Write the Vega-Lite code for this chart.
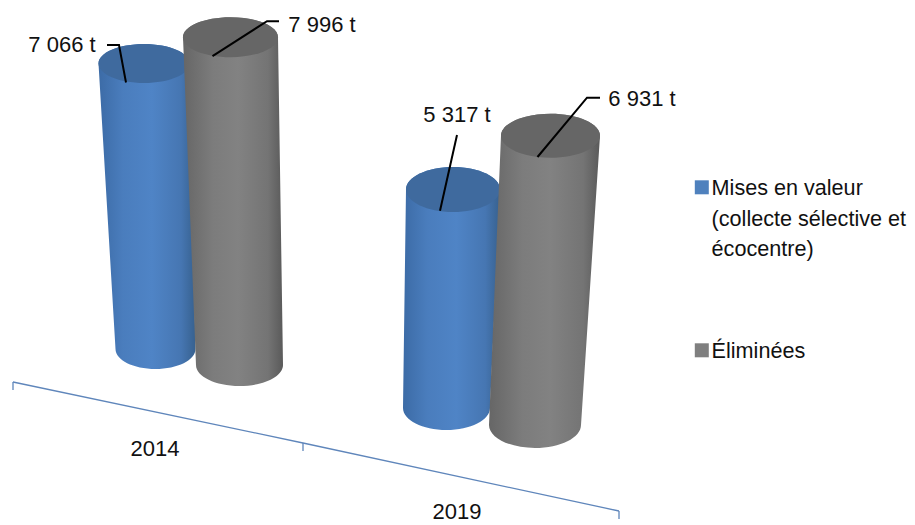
{
  "$schema": "https://vega.github.io/schema/vega-lite/v6.json",
  "width": 915,
  "height": 525,
  "padding": 0,
  "autosize": "none",
  "background": "white",
  "config": {"view": {"stroke": null}, "axis": {"disable": true}},
  "layer": [
    {
      "data": {"values": [{"borne": 0}, {"borne": 1}, {"borne": 2}]},
      "transform": [
        {"calculate": "13 + 290 * datum.borne + 13 * datum.borne * (datum.borne - 1)", "as": "ax"},
        {"calculate": "382 + 61 * datum.borne + 3.5 * datum.borne * (datum.borne - 1)", "as": "ay"},
        {"calculate": "datum.ay + 8", "as": "ay2"}
      ],
      "layer": [
        {
          "mark": {"type": "line", "color": "#5f86bb", "strokeWidth": 1.3},
          "encoding": {
            "x": {"field": "ax", "type": "quantitative", "scale": {"domain": [0, 915], "nice": false}, "title": null},
            "y": {"field": "ay", "type": "quantitative", "scale": {"domain": [525, 0], "nice": false}, "title": null}
          }
        },
        {
          "mark": {"type": "rule", "color": "#5f86bb", "strokeWidth": 1.3},
          "encoding": {
            "x": {"field": "ax", "type": "quantitative", "scale": {"domain": [0, 915], "nice": false}, "title": null},
            "y": {"field": "ay", "type": "quantitative", "scale": {"domain": [525, 0], "nice": false}, "title": null},
            "y2": {"field": "ay2"}
          }
        }
      ]
    },
    {
      "data": {
        "values": [
          {"annee": "2014", "categorie": "Mises en valeur|(collecte sélective et|écocentre)", "tonnes": 7066},
          {"annee": "2014", "categorie": "Éliminées", "tonnes": 7996},
          {"annee": "2019", "categorie": "Mises en valeur|(collecte sélective et|écocentre)", "tonnes": 5317},
          {"annee": "2019", "categorie": "Éliminées", "tonnes": 6931}
        ]
      },
      "transform": [
        {"calculate": "datum.annee == '2019' ? 1 : 0", "as": "u"},
        {"calculate": "datum.categorie == 'Éliminées' ? 1 : 0", "as": "v"},
        {"calculate": "datum.annee + datum.categorie", "as": "cle"},
        {"calculate": "155.5 + 291 * datum.u + 84 * datum.v + 4.5 * datum.u * datum.v", "as": "bx"},
        {"calculate": "349 + 59 * datum.u + 16 * datum.v + datum.u * datum.v", "as": "by"},
        {"calculate": "0.0404 + 0.0007 * datum.u + 0.0006 * datum.v + 0.00004 * datum.u * datum.v", "as": "k"},
        {"calculate": "datum.by - datum.k * datum.tonnes", "as": "ty"},
        {"calculate": "144 + 309 * datum.u + 86.5 * datum.v + 11 * datum.u * datum.v", "as": "tx"},
        {"calculate": "40 + 3.5 * datum.u + 3.5 * datum.v - datum.u * datum.v", "as": "brx"},
        {"calculate": "45.5 + 1.5 * datum.u + 2 * datum.v + 0.5 * datum.u * datum.v", "as": "trx"},
        {"calculate": "20 + 2 * datum.u + datum.v", "as": "bry"},
        {"calculate": "19.5 + 3 * datum.u + 0.5 * datum.v - datum.u * datum.v", "as": "try"},
        {"calculate": "pow(2 * datum.trx, 2)", "as": "tsize"},
        {"calculate": "datum.try / datum.trx", "as": "tratio"},
        {"calculate": "'M-1,0A1,' + datum.tratio + ' 0 1 1 1,0A1,' + datum.tratio + ' 0 1 1 -1,0Z'", "as": "tpath"},
        {"calculate": "'M' + (-datum.trx) + ',0L' + (datum.bx - datum.brx - datum.tx) + ',' + (datum.by - datum.ty) + 'A' + datum.brx + ',' + datum.bry + ' 0 0 0 ' + (datum.bx + datum.brx - datum.tx) + ',' + (datum.by - datum.ty) + 'L' + datum.trx + ',0A' + datum.trx + ',' + datum.try + ' 0 0 0 ' + (-datum.trx) + ',0Z'", "as": "silhouette"}
      ],
      "layer": [
        {
          "transform": [{"calculate": "datum.by - 2", "as": "uy"}],
          "mark": {"type": "point", "filled": true, "opacity": 1, "strokeWidth": 0, "shape": "M-1,0A1,0.4 0 1 1 1,0A1,0.4 0 1 1 -1,0Z", "size": 3600},
          "encoding": {
            "x": {"field": "bx", "type": "quantitative", "scale": {"domain": [0, 915], "nice": false}, "title": null},
            "y": {"field": "uy", "type": "quantitative", "scale": {"domain": [525, 0], "nice": false}, "title": null},
            "color": {
              "field": "categorie",
              "type": "nominal",
              "scale": {
                "domain": ["Mises en valeur|(collecte sélective et|écocentre)", "Éliminées"],
                "range": ["#4f81bd", "#7f7f7f"]
              },
              "legend": {
                "title": null,
                "orient": "none",
                "legendX": 691,
                "legendY": 176.5,
                "symbolType": "square",
                "symbolSize": 196,
                "symbolStrokeWidth": 0,
                "symbolOpacity": 1,
                "labelFont": "Liberation Sans",
                "labelFontSize": 21.6,
                "labelColor": "#111111",
                "labelLimit": 400,
                "labelOffset": -1,
                "labelBaseline": "top",
                "rowPadding": 78,
                "labelExpr": "split(datum.label, '|')",
                "encode": {"labels": {"update": {"lineHeight": {"value": 30.5}, "dy": {"value": -9}}}}
              }
            }
          }
        },
        {
          "transform": [{"filter": "datum.v == 0"}],
          "layer": [
            {
              "mark": {"type": "point", "filled": true, "opacity": 1, "strokeWidth": 0, "size": 4,
                "color": {"gradient": "linear", "x1": 0, "x2": 1, "y1": 0, "y2": 0, "stops": [
                  {"offset": 0, "color": "#3c6ba6"}, {"offset": 0.25, "color": "#4a7dbd"}, {"offset": 0.55, "color": "#4f84c6"}, {"offset": 0.85, "color": "#4676b2"}, {"offset": 1, "color": "#37618f"}]}},
              "encoding": {
                "x": {"field": "tx", "type": "quantitative", "scale": {"domain": [0, 915], "nice": false}, "title": null},
                "y": {"field": "ty", "type": "quantitative", "scale": {"domain": [525, 0], "nice": false}, "title": null},
                "shape": {"field": "silhouette", "type": "nominal", "scale": null}
              }
            },
            {
              "mark": {"type": "point", "filled": true, "opacity": 1, "strokeWidth": 0, "color": "#3f6a9e"},
              "encoding": {
                "x": {"field": "tx", "type": "quantitative", "scale": {"domain": [0, 915], "nice": false}, "title": null},
                "y": {"field": "ty", "type": "quantitative", "scale": {"domain": [525, 0], "nice": false}, "title": null},
                "size": {"field": "tsize", "type": "quantitative", "scale": null},
                "shape": {"field": "tpath", "type": "nominal", "scale": null}
              }
            }
          ]
        },
        {
          "transform": [{"filter": "datum.v == 1"}],
          "layer": [
            {
              "mark": {"type": "point", "filled": true, "opacity": 1, "strokeWidth": 0, "size": 4,
                "color": {"gradient": "linear", "x1": 0, "x2": 1, "y1": 0, "y2": 0, "stops": [
                  {"offset": 0, "color": "#666666"}, {"offset": 0.3, "color": "#7c7c7c"}, {"offset": 0.55, "color": "#828282"}, {"offset": 0.85, "color": "#747474"}, {"offset": 1, "color": "#5a5a5a"}]}},
              "encoding": {
                "x": {"field": "tx", "type": "quantitative", "scale": {"domain": [0, 915], "nice": false}, "title": null},
                "y": {"field": "ty", "type": "quantitative", "scale": {"domain": [525, 0], "nice": false}, "title": null},
                "shape": {"field": "silhouette", "type": "nominal", "scale": null}
              }
            },
            {
              "mark": {"type": "point", "filled": true, "opacity": 1, "strokeWidth": 0, "color": "#666666"},
              "encoding": {
                "x": {"field": "tx", "type": "quantitative", "scale": {"domain": [0, 915], "nice": false}, "title": null},
                "y": {"field": "ty", "type": "quantitative", "scale": {"domain": [525, 0], "nice": false}, "title": null},
                "size": {"field": "tsize", "type": "quantitative", "scale": null},
                "shape": {"field": "tpath", "type": "nominal", "scale": null}
              }
            }
          ]
        },
        {
          "transform": [
            {"calculate": "[0, 1, 2]", "as": "p"},
            {"flatten": ["p"]},
            {"calculate": "datum.p == 0 ? datum.tx - 18 + 5 * datum.u : datum.p == 1 ? datum.tx - 25 + 29 * datum.u + 61.5 * datum.v - 29 * datum.u * datum.v : datum.tx - 37 + 41 * datum.u + 85.5 * datum.v - 40 * datum.u * datum.v", "as": "lx"},
            {"calculate": "datum.p == 0 ? datum.ty + 19 + 2.3 * datum.u : datum.ty - 18.5 - 36 * datum.u + 2.5 * datum.v + 14 * datum.u * datum.v", "as": "ly"}
          ],
          "mark": {"type": "line", "color": "#000000", "strokeWidth": 2},
          "encoding": {
            "x": {"field": "lx", "type": "quantitative", "scale": {"domain": [0, 915], "nice": false}, "title": null},
            "y": {"field": "ly", "type": "quantitative", "scale": {"domain": [525, 0], "nice": false}, "title": null},
            "detail": {"field": "cle"},
            "order": {"field": "p"}
          }
        },
        {
          "transform": [
            {"calculate": "replace(format(datum.tonnes, ','), ',', ' ') + ' t'", "as": "etiquette"},
            {"calculate": "datum.tx - 82 + 86 * datum.u + 173.5 * datum.v - 86 * datum.u * datum.v", "as": "ex"},
            {"calculate": "datum.ty - 18.5 - 56 * datum.u + 6.5 * datum.v + 31 * datum.u * datum.v", "as": "ey"}
          ],
          "mark": {"type": "text", "font": "Liberation Sans", "fontSize": 22, "color": "#111111", "align": "center", "baseline": "middle"},
          "encoding": {
            "x": {"field": "ex", "type": "quantitative", "scale": {"domain": [0, 915], "nice": false}, "title": null},
            "y": {"field": "ey", "type": "quantitative", "scale": {"domain": [525, 0], "nice": false}, "title": null},
            "text": {"field": "etiquette"}
          }
        },
        {
          "transform": [
            {"filter": "datum.v == 0"},
            {"calculate": "155 + 302 * datum.u", "as": "ax"},
            {"calculate": "449 + 63 * datum.u", "as": "ay"}
          ],
          "mark": {"type": "text", "font": "Liberation Sans", "fontSize": 22, "color": "#111111", "align": "center", "baseline": "middle"},
          "encoding": {
            "x": {"field": "ax", "type": "quantitative", "scale": {"domain": [0, 915], "nice": false}, "title": null},
            "y": {"field": "ay", "type": "quantitative", "scale": {"domain": [525, 0], "nice": false}, "title": null},
            "text": {"field": "annee"}
          }
        }
      ]
    }
  ]
}
